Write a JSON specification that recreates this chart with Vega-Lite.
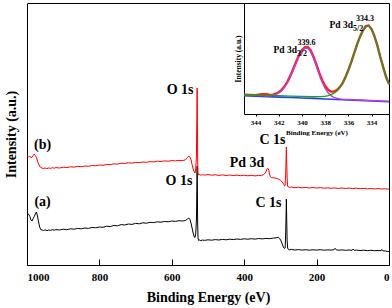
{
  "$schema": "https://vega.github.io/schema/vega-lite/v6.json",
  "width": 362,
  "height": 262,
  "autosize": {"type": "none"},
  "padding": {"left": 27, "top": 3, "right": 3, "bottom": 43},
  "config": {"view": {"stroke": "black", "strokeWidth": 1}, "axis": {"grid": false}, "font": "Liberation Serif"},
  "datasets": {
    "a": [
      {"E":1000,"I":50},{"E":996,"I":51},{"E":992,"I":48.5},{"E":989,"I":45},{"E":986,"I":44},{"E":983,"I":46.5},{"E":980,"I":48.5},{"E":977,"I":51},{"E":974,"I":53},{"E":971,"I":49},{"E":968,"I":43},{"E":965,"I":38},{"E":962,"I":35.5},{"E":958,"I":35},{"E":954,"I":34.5},{"E":950,"I":35.2},{"E":945,"I":34.3},{"E":940,"I":35},{"E":935,"I":34.6},{"E":930,"I":35.3},{"E":925,"I":34.8},{"E":920,"I":35.4},{"E":910,"I":35},{"E":900,"I":35.8},{"E":890,"I":35.3},{"E":880,"I":36.2},{"E":870,"I":35.8},{"E":860,"I":36.6},{"E":850,"I":36.2},{"E":840,"I":37},{"E":830,"I":36.6},{"E":820,"I":37.6},{"E":810,"I":37.2},{"E":800,"I":38},{"E":790,"I":37.7},{"E":780,"I":38.8},{"E":770,"I":38.4},{"E":760,"I":39.5},{"E":750,"I":39.2},{"E":740,"I":40.4},{"E":730,"I":40},{"E":720,"I":41},{"E":710,"I":40.6},{"E":700,"I":41.6},{"E":690,"I":41.2},{"E":680,"I":42.2},{"E":670,"I":41.8},{"E":660,"I":42.7},{"E":650,"I":42.4},{"E":640,"I":43.2},{"E":630,"I":42.8},{"E":620,"I":43.6},{"E":610,"I":43.2},{"E":600,"I":44},{"E":590,"I":43.6},{"E":580,"I":44.3},{"E":570,"I":44},{"E":562,"I":44.6},{"E":557,"I":46},{"E":553,"I":47},{"E":550,"I":45.5},{"E":547,"I":42},{"E":544,"I":37},{"E":541,"I":32},{"E":538,"I":28},{"E":536,"I":27.5},{"E":534,"I":31},{"E":532,"I":45},{"E":531,"I":70},{"E":530,"I":99},{"E":529.2,"I":70},{"E":528.5,"I":40},{"E":527.5,"I":27},{"E":526,"I":24.5},{"E":523,"I":25},{"E":520,"I":24.3},{"E":515,"I":25},{"E":510,"I":24.6},{"E":500,"I":25.2},{"E":490,"I":24.8},{"E":480,"I":25.4},{"E":470,"I":25},{"E":460,"I":25.6},{"E":450,"I":25.2},{"E":440,"I":25.8},{"E":430,"I":25.4},{"E":420,"I":26},{"E":410,"I":25.6},{"E":400,"I":26.2},{"E":390,"I":25.8},{"E":380,"I":26.3},{"E":370,"I":25.9},{"E":360,"I":26.5},{"E":350,"I":26.1},{"E":340,"I":26.6},{"E":330,"I":26.3},{"E":320,"I":26.9},{"E":312,"I":27.2},{"E":306,"I":27.8},{"E":302,"I":26.5},{"E":298,"I":24},{"E":295,"I":21},{"E":292,"I":18},{"E":289,"I":16.5},{"E":287,"I":17},{"E":285.5,"I":30},{"E":284.3,"I":50},{"E":283.5,"I":66},{"E":282.7,"I":48},{"E":281.5,"I":25},{"E":280,"I":17},{"E":278,"I":15.5},{"E":275,"I":15.2},{"E":270,"I":15.6},{"E":260,"I":15},{"E":250,"I":15.4},{"E":240,"I":14.9},{"E":230,"I":15.3},{"E":220,"I":14.8},{"E":210,"I":15.2},{"E":200,"I":14.9},{"E":190,"I":15.3},{"E":180,"I":14.8},{"E":170,"I":15.1},{"E":160,"I":14.9},{"E":152,"I":15.3},{"E":149,"I":16.7},{"E":146,"I":15.2},{"E":140,"I":14.8},{"E":130,"I":15.1},{"E":120,"I":14.7},{"E":110,"I":15},{"E":102,"I":14.7},{"E":99,"I":16},{"E":96,"I":14.6},{"E":90,"I":14.9},{"E":80,"I":14.5},{"E":70,"I":14.8},{"E":60,"I":14.4},{"E":50,"I":14.7},{"E":40,"I":14.3},{"E":30,"I":14.6},{"E":22,"I":14.2},{"E":20,"I":15.5},{"E":17,"I":14.2},{"E":10,"I":14},{"E":5,"I":13.6},{"E":0,"I":13.5}
    ],
    "b": [
      {"E":1000,"I":109},{"E":996,"I":108.2},{"E":992,"I":108.5},{"E":989,"I":107.5},{"E":986,"I":107.8},{"E":983,"I":109.5},{"E":980,"I":111},{"E":977,"I":109.5},{"E":974,"I":107.5},{"E":971,"I":104},{"E":968,"I":101},{"E":965,"I":99},{"E":962,"I":97.5},{"E":958,"I":96.8},{"E":954,"I":96.5},{"E":950,"I":97},{"E":945,"I":96.4},{"E":940,"I":97.1},{"E":935,"I":96.6},{"E":930,"I":97.3},{"E":925,"I":96.8},{"E":920,"I":97.4},{"E":910,"I":97},{"E":900,"I":97.8},{"E":890,"I":97.4},{"E":880,"I":98.2},{"E":870,"I":97.9},{"E":860,"I":98.7},{"E":850,"I":98.3},{"E":840,"I":99},{"E":830,"I":98.7},{"E":820,"I":99.5},{"E":810,"I":99.2},{"E":800,"I":100},{"E":790,"I":99.7},{"E":780,"I":100.6},{"E":770,"I":100.3},{"E":760,"I":101.2},{"E":750,"I":100.9},{"E":740,"I":101.8},{"E":730,"I":101.5},{"E":720,"I":102.2},{"E":710,"I":101.9},{"E":700,"I":102.6},{"E":690,"I":102.3},{"E":680,"I":103},{"E":670,"I":102.7},{"E":660,"I":103.4},{"E":650,"I":103.1},{"E":640,"I":103.8},{"E":630,"I":103.5},{"E":620,"I":104.1},{"E":610,"I":103.8},{"E":600,"I":104.4},{"E":590,"I":104.1},{"E":580,"I":104.6},{"E":570,"I":104.4},{"E":562,"I":105.2},{"E":557,"I":107.5},{"E":553,"I":109},{"E":550,"I":108},{"E":547,"I":105.5},{"E":544,"I":100.5},{"E":541,"I":96},{"E":538,"I":93},{"E":536,"I":92},{"E":534,"I":95},{"E":532,"I":108},{"E":531,"I":140},{"E":530,"I":177},{"E":529.2,"I":140},{"E":528.5,"I":105},{"E":527.5,"I":92},{"E":526,"I":90.2},{"E":523,"I":90.5},{"E":520,"I":89.8},{"E":515,"I":90.3},{"E":510,"I":89.9},{"E":500,"I":90.4},{"E":490,"I":89.8},{"E":480,"I":90.2},{"E":470,"I":89.6},{"E":460,"I":90.1},{"E":450,"I":89.5},{"E":440,"I":90},{"E":430,"I":89.4},{"E":420,"I":89.9},{"E":410,"I":89.3},{"E":400,"I":89.8},{"E":390,"I":89.2},{"E":380,"I":89.7},{"E":370,"I":89.1},{"E":360,"I":89.6},{"E":352,"I":89.3},{"E":346,"I":90.5},{"E":342,"I":92},{"E":339,"I":94},{"E":337,"I":96},{"E":335.5,"I":96.8},{"E":334,"I":96.5},{"E":332,"I":94.5},{"E":330,"I":91},{"E":328,"I":88.5},{"E":325,"I":87.5},{"E":320,"I":87.2},{"E":315,"I":86.9},{"E":310,"I":86.6},{"E":305,"I":85.8},{"E":300,"I":84.8},{"E":296,"I":83.5},{"E":293,"I":82},{"E":290.5,"I":80.5},{"E":288.5,"I":79},{"E":287,"I":79.5},{"E":285.5,"I":90},{"E":284.3,"I":105},{"E":283.5,"I":118},{"E":282.7,"I":104},{"E":281.5,"I":88},{"E":280,"I":79},{"E":278,"I":78},{"E":275,"I":77.6},{"E":270,"I":78},{"E":260,"I":77.3},{"E":250,"I":77.8},{"E":240,"I":77.2},{"E":230,"I":77.6},{"E":220,"I":77},{"E":210,"I":77.5},{"E":200,"I":76.9},{"E":190,"I":77.4},{"E":180,"I":76.8},{"E":170,"I":77.2},{"E":160,"I":76.7},{"E":150,"I":77.1},{"E":140,"I":76.6},{"E":130,"I":77},{"E":120,"I":76.5},{"E":110,"I":76.9},{"E":100,"I":76.4},{"E":90,"I":76.8},{"E":80,"I":76.3},{"E":70,"I":76.6},{"E":60,"I":76.2},{"E":50,"I":76.5},{"E":40,"I":76.1},{"E":30,"I":76.4},{"E":20,"I":76},{"E":10,"I":76.2},{"E":0,"I":75.8}
    ],
    "labels": [
      {"E":577,"I":175,"t":"O 1s"},{"E":957,"I":120,"t":"(b)"},{"E":957,"I":63,"t":"(a)"},{"E":580,"I":84,"t":"O 1s"},{"E":392,"I":102,"t":"Pd 3d"},{"E":333,"I":62,"t":"C 1s"},{"E":322,"I":125,"t":"C 1s"}
    ],
    "raw": [
      {"E":345,"I":19.2},{"E":344.5,"I":19.0},{"E":344,"I":18.9},{"E":343.5,"I":19.8},{"E":343,"I":19.9},{"E":342.75,"I":18.9},{"E":342.5,"I":19.4},{"E":342.25,"I":20.3},{"E":342,"I":21.8},{"E":341.75,"I":24.2},{"E":341.5,"I":27.7},{"E":341.25,"I":32.4},{"E":341,"I":38.4},{"E":340.75,"I":45.2},{"E":340.5,"I":52.2},{"E":340.25,"I":58.9},{"E":340,"I":64.0},{"E":339.75,"I":66.9},{"E":339.5,"I":67.1},{"E":339.25,"I":63.7},{"E":339,"I":57.1},{"E":338.75,"I":49.1},{"E":338.5,"I":40.8},{"E":338.25,"I":33.5},{"E":338,"I":27.9},{"E":337.75,"I":24.3},{"E":337.5,"I":22.5},{"E":337.25,"I":22.4},{"E":337,"I":23.8},{"E":336.75,"I":26.7},{"E":336.5,"I":30.9},{"E":336.25,"I":36.9},{"E":336,"I":44.0},{"E":335.75,"I":52.1},{"E":335.5,"I":60.9},{"E":335.25,"I":69.6},{"E":335,"I":77.3},{"E":334.75,"I":83.4},{"E":334.5,"I":87.9},{"E":334.25,"I":88.5},{"E":334,"I":85.0},{"E":333.75,"I":77.6},{"E":333.5,"I":68.4},{"E":333.25,"I":57.0},{"E":333,"I":46.8},{"E":332.75,"I":37.0},{"E":332.5,"I":29.9}
    ],
    "bg": [
      {"E":345,"I":18.3},{"E":344,"I":17.9},{"E":343,"I":17.4},{"E":342,"I":16.9},{"E":341,"I":16.5},{"E":340,"I":16.0},{"E":339,"I":15.6},{"E":338,"I":15.0},{"E":337,"I":14.5},{"E":336,"I":14.0},{"E":335,"I":13.6},{"E":334,"I":13.0},{"E":333,"I":12.5},{"E":332.5,"I":12.3}
    ],
    "p32": [
      {"E":343.25,"I":18.1},{"E":343,"I":18.1},{"E":342.75,"I":18.3},{"E":342.5,"I":18.7},{"E":342.25,"I":19.5},{"E":342,"I":21.0},{"E":341.75,"I":23.3},{"E":341.5,"I":26.8},{"E":341.25,"I":31.5},{"E":341,"I":37.4},{"E":340.75,"I":44.2},{"E":340.5,"I":51.1},{"E":340.25,"I":57.7},{"E":340,"I":62.8},{"E":339.75,"I":65.7},{"E":339.5,"I":65.8},{"E":339.25,"I":62.3},{"E":339,"I":55.7},{"E":338.75,"I":47.6},{"E":338.5,"I":39.1},{"E":338.25,"I":31.6},{"E":338,"I":25.5},{"E":337.75,"I":21.3},{"E":337.5,"I":18.4},{"E":337.25,"I":16.7},{"E":337,"I":15.7},{"E":336.75,"I":15.1},{"E":336.5,"I":14.7},{"E":336,"I":14.5},{"E":335.5,"I":14.2},{"E":335,"I":14.0},{"E":334.5,"I":13.8},{"E":334,"I":13.5},{"E":333.5,"I":13.3},{"E":333,"I":13.0},{"E":332.5,"I":12.8}
    ],
    "p52": [
      {"E":345,"I":19.0},{"E":344,"I":18.7},{"E":343,"I":18.4},{"E":342,"I":18.2},{"E":341,"I":17.9},{"E":340,"I":17.6},{"E":339,"I":17.3},{"E":338.5,"I":17.4},{"E":338.25,"I":17.5},{"E":338,"I":17.8},{"E":337.75,"I":18.4},{"E":337.5,"I":19.3},{"E":337.25,"I":20.8},{"E":337,"I":23.1},{"E":336.75,"I":26.4},{"E":336.5,"I":30.9},{"E":336.25,"I":36.9},{"E":336,"I":44.0},{"E":335.75,"I":52.1},{"E":335.5,"I":60.9},{"E":335.25,"I":69.6},{"E":335,"I":77.3},{"E":334.75,"I":83.4},{"E":334.5,"I":87.1},{"E":334.25,"I":87.9},{"E":334,"I":84.7},{"E":333.75,"I":77.8},{"E":333.5,"I":68.1},{"E":333.25,"I":57.2},{"E":333,"I":46.5},{"E":332.75,"I":37.3},{"E":332.5,"I":29.7}
    ],
    "insetBig": [
      {"E":341.44,"I":64,"t":"Pd 3d"},{"E":336.62,"I":89,"t":"Pd 3d"}
    ],
    "insetSmall": [
      {"E":340.0,"I":60,"t":"3/2"},{"E":339.61,"I":71,"t":"339.6"},{"E":335.17,"I":85,"t":"5/2"},{"E":334.57,"I":95,"t":"334.3"}
    ]
  },
  "layer": [
    {
      "layer": [
        {
          "data": {"name": "a"},
          "mark": {"type": "line", "color": "black", "strokeWidth": 1},
          "encoding": {
            "x": {"field": "E", "type": "quantitative",
              "scale": {"domain": [1000, 0], "nice": false, "zero": false},
              "axis": {"values": [0,100,200,300,400,500,600,700,800,900,1000], "format": "d",
                "labelExpr": "datum.value % 200 === 0 ? datum.label : ''",
                "tickSize": {"condition": {"test": "datum.value % 200 === 0", "value": -6}, "value": -3},
                "tickColor": "black", "domain": false,
                "labelFont": "Liberation Serif", "labelFontWeight": "bold", "labelFontSize": 11, "labelColor": "black", "labelPadding": 12,
                "title": "Binding  Energy (eV)", "titleFont": "Liberation Serif", "titleFontWeight": "bold", "titleFontSize": 14, "titleColor": "black", "titlePadding": 8}},
            "y": {"field": "I", "type": "quantitative",
              "scale": {"domain": [0, 262], "nice": false, "zero": false},
              "axis": {"labels": false, "ticks": false, "domain": false,
                "title": "Intensity (a.u.)", "titleFont": "Liberation Serif", "titleFontWeight": "bold", "titleFontSize": 14, "titleColor": "black", "titlePadding": 9}}
          }
        },
        {
          "data": {"name": "b"},
          "mark": {"type": "line", "color": "#ff0000", "strokeWidth": 1},
          "encoding": {
            "x": {"field": "E", "type": "quantitative"},
            "y": {"field": "I", "type": "quantitative"}
          }
        },
        {
          "data": {"name": "labels"},
          "mark": {"type": "text", "font": "Liberation Serif", "fontWeight": "bold", "fontSize": 14, "color": "black"},
          "encoding": {
            "x": {"field": "E", "type": "quantitative"},
            "y": {"field": "I", "type": "quantitative"},
            "text": {"field": "t"}
          }
        }
      ]
    },
    {
      "layer": [
        {
          "data": {"name": "raw"},
          "mark": {"type": "line", "color": "#ff2020", "strokeWidth": 2.4},
          "encoding": {
            "x": {"field": "E", "type": "quantitative",
              "scale": {"domain": [345, 332.5], "range": [217, 362], "nice": false, "zero": false},
              "axis": {"orient": "bottom", "offset": -151, "values": [334,336,338,340,342,344],
                "domainColor": "black", "ticks": true, "tickSize": 2, "tickColor": "black",
                "labelFont": "Liberation Serif", "labelFontWeight": "bold", "labelFontSize": 7, "labelColor": "black", "labelPadding": 2,
                "title": "Binding  Energy (eV)", "titleFont": "Liberation Serif", "titleFontWeight": "bold", "titleFontSize": 7, "titleColor": "black", "titlePadding": 3}},
            "y": {"field": "I", "type": "quantitative",
              "scale": {"domain": [0, 111], "range": [111, 0], "nice": false, "zero": false},
              "axis": {"orient": "left", "offset": -217, "labels": false, "ticks": false, "domainColor": "black",
                "title": "Intensity (a.u.)", "titleFont": "Liberation Serif", "titleFontWeight": "bold", "titleFontSize": 7.5, "titleColor": "black", "titlePadding": 2}}
          }
        },
        {
          "data": {"name": "bg"},
          "mark": {"type": "line", "color": "#2a3cff", "strokeWidth": 1.6},
          "encoding": {"x": {"field": "E", "type": "quantitative"}, "y": {"field": "I", "type": "quantitative"}}
        },
        {
          "data": {"name": "p32"},
          "mark": {"type": "line", "color": "#b840d8", "strokeWidth": 1.4},
          "encoding": {"x": {"field": "E", "type": "quantitative"}, "y": {"field": "I", "type": "quantitative"}}
        },
        {
          "data": {"name": "p52"},
          "mark": {"type": "line", "color": "#1f9f1f", "strokeWidth": 1.4},
          "encoding": {"x": {"field": "E", "type": "quantitative"}, "y": {"field": "I", "type": "quantitative"}}
        },
        {
          "data": {"name": "insetBig"},
          "mark": {"type": "text", "font": "Liberation Serif", "fontWeight": "bold", "fontSize": 9.5, "color": "black"},
          "encoding": {"x": {"field": "E", "type": "quantitative"}, "y": {"field": "I", "type": "quantitative"}, "text": {"field": "t"}}
        },
        {
          "data": {"name": "insetSmall"},
          "mark": {"type": "text", "font": "Liberation Serif", "fontWeight": "bold", "fontSize": 8, "color": "black"},
          "encoding": {"x": {"field": "E", "type": "quantitative"}, "y": {"field": "I", "type": "quantitative"}, "text": {"field": "t"}}
        }
      ]
    }
  ],
  "resolve": {"scale": {"x": "independent", "y": "independent"}}
}
